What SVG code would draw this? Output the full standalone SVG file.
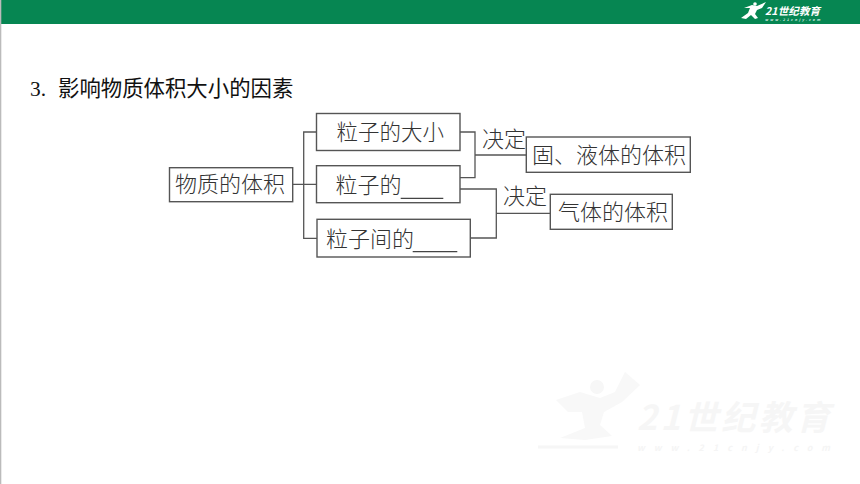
<svg xmlns="http://www.w3.org/2000/svg" width="860" height="484" viewBox="0 0 860 484">
<style>
.b{fill:#fff;stroke:#555;stroke-width:1.4}
.c{fill:none;stroke:#555;stroke-width:1.3}
.t{font-family:"Noto Sans CJK SC","Noto Sans",sans-serif;font-size:22px;fill:#333;font-weight:300}
.u{stroke:#444;stroke-width:1.3}
.logo{font-family:"Noto Sans CJK SC",sans-serif;font-weight:700;font-style:italic}
</style>
<rect width="860" height="484" fill="#fff"/>
<rect x="0" y="0" width="860" height="24" fill="#068652"/>
<rect x="0" y="0" width="1.3" height="484" fill="#bbb"/>
<g id="logo">
<path d="M741 18L748 13L750 8L744 8L752 5L757 6L766 2L762 8L757 10L755 14L758 18L755 19L751 15L746 19Z" fill="#fff"/>
<circle cx="755" cy="4" r="1.8" fill="#fff"/>
<text class="logo" x="765" y="14.500" font-size="10.500" fill="#fff" textLength="55">21世纪教育</text>
<text class="logo" x="765" y="20.500" font-size="3.500" fill="#d8eee3" textLength="55">www.21cnjy.com</text>
</g>
<g id="watermark">
<path d="M556 400L580 392L600 398L615 392L625 372L640 385L622 402L604 412L600 425L612 436L585 440L560 438L585 428L582 412L568 412Z" fill="#f8f8f8"/>
<circle cx="597" cy="387" r="7" fill="#f7f7f7"/>
<path d="M538 447H618" stroke="#f6f6f6" stroke-width="3"/>
<text class="logo" x="637" y="430" font-size="34" fill="#f6f6f6" textLength="193">21世纪教育</text>
<text class="logo" x="637" y="451" font-size="9" fill="#f5f5f5" textLength="193">www.21cnjy.com</text>
</g>
<text id="title" x="30" y="96" font-family="Noto Sans CJK SC,sans-serif" font-size="21.400" fill="#111"><tspan font-family="Liberation Serif,serif">3.</tspan><tspan x="58">影响物质体积大小的因素</tspan></text>
<g id="connectors">
<path class="c" d="M293 184.300H316.500M316.500 132H303.700V238.300H317"/>
<path class="c" d="M460 132H475V177.700H460M475 155H526.300"/>
<path class="c" d="M460 189H496.300V238H470.300M496.300 213.300H550.300"/>
</g>
<g id="n1"><rect class="b" x="169.500" y="167.700" width="123.200" height="34"/><text class="t" x="175" y="192">物质的体积</text></g>
<g id="n2"><rect class="b" x="316.500" y="113.500" width="143.500" height="37"/><text class="t" x="336.500" y="140" style="font-size:21.500px">粒子的大小</text></g>
<g id="n3"><rect class="b" x="316.500" y="165.700" width="143.500" height="37"/><text class="t" x="335.500" y="193">粒子的</text><line class="u" x1="400.700" y1="198.300" x2="443.300" y2="198.300"/></g>
<g id="n4"><rect class="b" x="317" y="219.300" width="153.300" height="37.700"/><text class="t" x="326" y="247">粒子间的</text><line class="u" x1="412.700" y1="251.700" x2="457.300" y2="251.700"/></g>
<g id="n5"><rect class="b" x="526.300" y="137" width="164" height="35.300"/><text class="t" x="532" y="163">固、液体的体积</text></g>
<g id="n6"><rect class="b" x="550.300" y="194.300" width="122" height="35"/><text class="t" x="558" y="220">气体的体积</text></g>
<text class="t" x="482" y="147">决定</text>
<text class="t" x="503" y="204">决定</text>
</svg>
